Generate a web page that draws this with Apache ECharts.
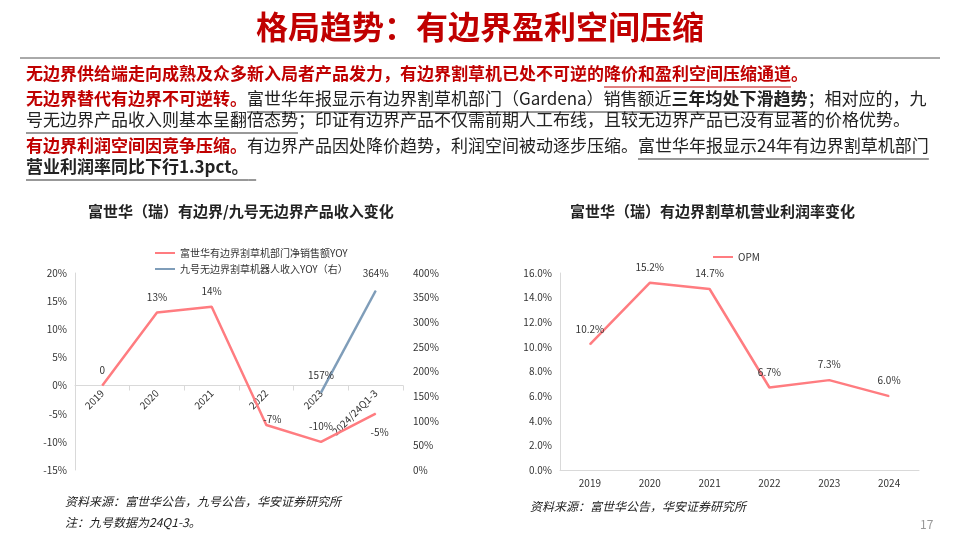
<!DOCTYPE html>
<html><head><meta charset="utf-8">
<script src="https://cdn.jsdelivr.net/npm/echarts@6/dist/echarts.min.js"></script>
<style>html,body{margin:0;padding:0;background:#fff}#c{width:960px;height:540px}</style>
</head><body><div id="c"></div>
<script>
// 左图：富世华有边界 / 九号无边界
const leftCats = ['2019', '2020', '2021', '2022', '2023', '2024/24Q1-3'];
const husqYoy = [0, 13, 14, -7, -10, -5];
const ninebotYoy = [null, null, null, null, 157, 364];
const leftTicks = [-15, 20, 5];
const rightTicks = [0, 400, 50];
// 右图：营业利润率
const opmCats = ['2019', '2020', '2021', '2022', '2023', '2024'];
const opm = [10.2, 15.2, 14.7, 6.7, 7.3, 6.0];

const RED = '#FF7C80', BLUE = '#7F9DB9', F = '"Noto Sans CJK SC", sans-serif';
const chart = echarts.init(document.getElementById('c'));

const t = (x, y, text, style) => ({type: 'text', left: x, top: y, style: Object.assign({text: text, font: '15px ' + F, fill: '#222'}, style)});

// 正文：每段 [文字, 样式, 下划线]
const FS = 17;
const fonts = {r: 'bold ' + FS + 'px ' + F, n: FS + 'px ' + F, b: 'bold ' + FS + 'px ' + F};
const cols = {r: '#C00000', n: '#222', b: '#222'};
const paras = [
    [65, [['无边界供给端走向成熟及众多新入局者产品发力，有边界割草机已处不可逆的', 'r'], ['降价和盈利空间压缩通道', 'r', 1], ['。', 'r']]],
    [90, [['无边界替代有边界不可逆转。', 'r'], ['富世华年报显示有边界割草机部门（Gardena）销售额近', 'n', 1], ['三年均处下滑趋势', 'b', 1], ['；相对应的，九', 'n']]],
    [111, [['号无边界产品收入则基本呈翻倍态势', 'n', 1], ['；印证有边界产品不仅需前期人工布线，且较无边界产品已没有显著的价格优势。', 'n']]],
    [137, [['有边界利润空间因竞争压缩。', 'r'], ['有边界产品因处降价趋势，利润空间被动逐步压缩。', 'n'], ['富世华年报显示24年有边界割草机部门', 'n', 1]]],
    [158, [['营业利润率同比下行1.3pct。', 'b', 1], ['  ', 'b', 1]]]
];
const ctx = document.createElement('canvas').getContext('2d');
const body = [];
paras.forEach(([y, segs]) => {
    let x = 26;
    segs.forEach(([s, k, u]) => {
        ctx.font = fonts[k];
        const w = ctx.measureText(s).width;
        body.push({type: 'text', left: x, top: y, style: {text: s, font: fonts[k], fill: cols[k]}});
        if (u) body.push({type: 'line', shape: {x1: x, y1: y + 22, x2: x + w, y2: y + 22}, style: {stroke: k === 'r' ? '#C00000' : '#333', lineWidth: 1}});
        x += w;
    });
});

chart.setOption({
    animation: false,
    textStyle: {fontFamily: F},
    graphic: [
        t('center', 11, '格局趋势：有边界盈利空间压缩', {font: 'bold 32px ' + F, fill: '#C00000'}),
        {type: 'line', shape: {x1: 20, y1: 58, x2: 940, y2: 58}, style: {stroke: '#555', lineWidth: 1}},
        ...body,
        t(88, 204, '富世华（瑞）有边界/九号无边界产品收入变化', {font: 'bold 15px ' + F}),
        t(570, 204, '富世华（瑞）有边界割草机营业利润率变化', {font: 'bold 15px ' + F}),
        t(65, 495, '资料来源：富世华公告，九号公告，华安证券研究所', {font: 'italic 12px ' + F}),
        t(65, 516, '注：九号数据为24Q1-3。', {font: 'italic 12px ' + F}),
        t(530, 500, '资料来源：富世华公告，华安证券研究所', {font: 'italic 12px ' + F}),
        t(920, 518, '17', {font: '12px ' + F, fill: '#999'})
    ],
    legend: [
        {left: 150, top: 243, orient: 'vertical', itemGap: 6, itemWidth: 20, itemHeight: 2,
         textStyle: {fontSize: 10, color: '#333'}, icon: 'rect',
         data: ['富世华有边界割草机部门净销售额YOY', '九号无边界割草机器人收入YOY（右）']},
        {left: 708, top: 247, itemWidth: 20, itemHeight: 2, icon: 'rect',
         textStyle: {fontSize: 10, color: '#333'}, data: ['OPM']}
    ],
    grid: [
        {left: 75, right: 557, top: 273, bottom: 70},
        {left: 560, right: 41, top: 273, bottom: 70}
    ],
    xAxis: [
        // 横轴放在 0% 处（用 offset 上移）
        {type: 'category', gridIndex: 0, data: leftCats, boundaryGap: true, offset: -84.5,
         axisLine: {onZero: false, lineStyle: {color: '#D9D9D9'}},
         axisTick: {show: true, lineStyle: {color: '#D9D9D9'}},
         axisLabel: {rotate: 45, fontSize: 10, color: '#333', margin: 6}},
        {type: 'category', gridIndex: 1, data: opmCats, boundaryGap: true,
         axisLine: {lineStyle: {color: '#D9D9D9'}}, axisTick: {lineStyle: {color: '#D9D9D9'}},
         axisLabel: {fontSize: 10, color: '#333'}}
    ],
    yAxis: [
        {type: 'value', gridIndex: 0, min: leftTicks[0], max: leftTicks[1], interval: leftTicks[2],
         axisLine: {show: true, lineStyle: {color: '#D9D9D9'}}, splitLine: {show: false},
         axisLabel: {fontSize: 10, color: '#333', formatter: '{value}%'}},
        {type: 'value', gridIndex: 1, min: 0, max: 16, interval: 2,
         axisLine: {show: true, lineStyle: {color: '#D9D9D9'}}, splitLine: {show: false},
         axisLabel: {fontSize: 10, color: '#333', formatter: v => v.toFixed(1) + '%'}},
        {type: 'value', gridIndex: 0, position: 'right', min: rightTicks[0], max: rightTicks[1], interval: rightTicks[2],
         axisLine: {show: false}, splitLine: {show: false},
         axisLabel: {fontSize: 10, color: '#333', formatter: '{value}%', margin: 10}}
    ],
    series: [
        {name: '富世华有边界割草机部门净销售额YOY', type: 'line', xAxisIndex: 0, yAxisIndex: 0,
         data: husqYoy, symbol: 'circle', symbolSize: 1, lineStyle: {color: RED, width: 2.5}, itemStyle: {color: RED},
         label: {show: true, position: 'top', fontSize: 10, color: '#333', distance: 10,
                 formatter: p => p.value === 0 ? '0' : p.value + '%'},
         labelLayout: p => p.dataIndex === 5 ? {dy: 34, dx: 4} : (p.dataIndex === 3 ? {dx: 6, dy: 10} : {})},
        {name: '九号无边界割草机器人收入YOY（右）', type: 'line', xAxisIndex: 0, yAxisIndex: 2,
         data: ninebotYoy, symbol: 'circle', symbolSize: 1, lineStyle: {color: BLUE, width: 2.5}, itemStyle: {color: BLUE},
         label: {show: true, position: 'top', fontSize: 10, color: '#333', distance: 12, formatter: '{c}%'}},
        {name: 'OPM', type: 'line', xAxisIndex: 1, yAxisIndex: 1, data: opm, symbol: 'circle', symbolSize: 1,
         lineStyle: {color: RED, width: 2.5}, itemStyle: {color: RED},
         label: {show: true, position: 'top', fontSize: 10, color: '#333', distance: 10,
                 formatter: p => p.value.toFixed(1) + '%'}}
    ]
});
</script></body></html>
